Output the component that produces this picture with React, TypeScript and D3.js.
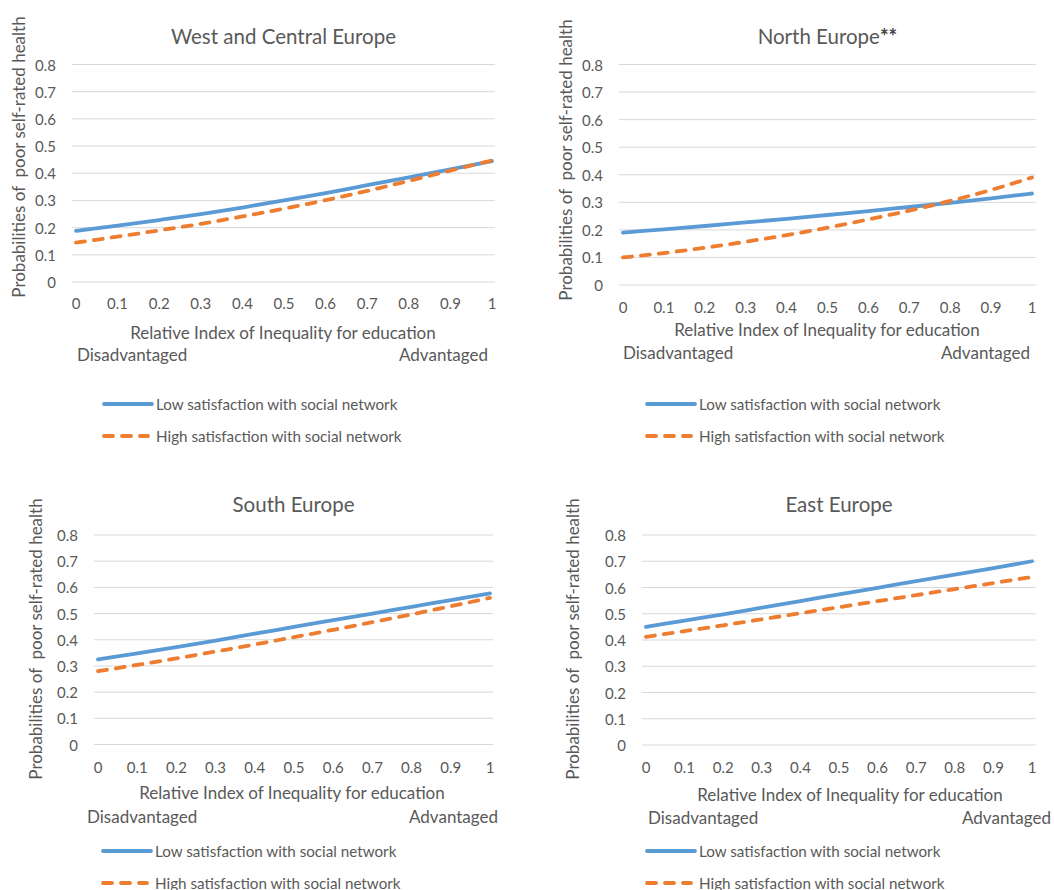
import * as d3 from "d3";

// x positions (Relative Index of Inequality)
const riiTicks = [0, 0.1, 0.2, 0.3, 0.4, 0.5, 0.6, 0.7, 0.8, 0.9, 1];
const yTicks = [0, 0.1, 0.2, 0.3, 0.4, 0.5, 0.6, 0.7, 0.8];

const regionNames = ["West and Central Europe", "North Europe**", "South Europe", "East Europe"];
const seriesNames = ["Low satisfaction with social network", "High satisfaction with social network"];

// estimated probabilities
const westLow = [0.188, 0.207, 0.228, 0.25, 0.274, 0.3, 0.327, 0.356, 0.385, 0.414, 0.445];
const westHigh = [0.145, 0.167, 0.19, 0.214, 0.241, 0.27, 0.301, 0.335, 0.372, 0.41, 0.447];
const northLow = [0.19, 0.202, 0.214, 0.227, 0.24, 0.254, 0.268, 0.283, 0.298, 0.314, 0.332];
const northHigh = [0.1, 0.116, 0.135, 0.157, 0.181, 0.208, 0.238, 0.27, 0.305, 0.345, 0.39];
const southLow = [0.325, 0.348, 0.372, 0.397, 0.423, 0.449, 0.475, 0.5, 0.526, 0.551, 0.577];
const southHigh = [0.28, 0.304, 0.329, 0.355, 0.382, 0.41, 0.438, 0.467, 0.497, 0.528, 0.56];
const eastLow = [0.45, 0.474, 0.498, 0.523, 0.548, 0.574, 0.599, 0.624, 0.649, 0.674, 0.7];
const eastHigh = [0.412, 0.434, 0.456, 0.479, 0.502, 0.525, 0.548, 0.571, 0.594, 0.617, 0.64];

const W = 1054;
const H = 890;
const FONT = "Lato, 'Open Sans', sans-serif";
const TXT = "#595959";
const BLUE = "#5b9bd5";
const ORANGE = "#ed7d31";

// layout of each small chart (pixel boxes measured on the reference)
const panels = [
  {
    name: regionNames[0], low: westLow, high: westHigh,
    plotL: 72, plotR: 495, x0: 76, x1: 492, yTop: 64.5, yBot: 282,
    titleY: 36, yLabX: 56, xTickY: 303, axisTitleX: 283, axisTitleY: 332,
    disX: 77, advX: 488, endsY: 354, legX: 102, legY: 404, yTitleX: 18, yTitleY: 157,
  },
  {
    name: regionNames[1], low: northLow, high: northHigh,
    plotL: 619, plotR: 1036, x0: 623, x1: 1032, yTop: 64.5, yBot: 285,
    titleY: 36, yLabX: 603, xTickY: 307, axisTitleX: 827, axisTitleY: 329,
    disX: 623, advX: 1030, endsY: 352, legX: 645, legY: 404, yTitleX: 565, yTitleY: 160,
  },
  {
    name: regionNames[2], low: southLow, high: southHigh,
    plotL: 94, plotR: 493, x0: 98, x1: 490, yTop: 535, yBot: 744.5,
    titleY: 504, yLabX: 78, xTickY: 767, axisTitleX: 292, axisTitleY: 792,
    disX: 87, advX: 498, endsY: 816, legX: 101, legY: 851, yTitleX: 35, yTitleY: 639,
  },
  {
    name: regionNames[3], low: eastLow, high: eastHigh,
    plotL: 642, plotR: 1036, x0: 646, x1: 1032, yTop: 535, yBot: 745,
    titleY: 504, yLabX: 626, xTickY: 767, axisTitleX: 850, axisTitleY: 794,
    disX: 648, advX: 1051, endsY: 817, legX: 645, legY: 851, yTitleX: 572, yTitleY: 639,
  },
];

const Panel = ({ p }: { p: (typeof panels)[number] }) => {
  const x = d3.scaleLinear().domain([0, 1]).range([p.x0, p.x1]);
  const y = d3.scaleLinear().domain([0, 0.8]).range([p.yBot, p.yTop]);
  const line = d3
    .line<number>()
    .x((_, i) => x(riiTicks[i]))
    .y((v) => y(v))
    .curve(d3.curveMonotoneX);

  return (
    <g fontFamily={FONT} fill={TXT}>
      <text x={(p.plotL + p.plotR) / 2} y={p.titleY} textAnchor="middle" dominantBaseline="central" fontSize={20.5}>
        {p.name.replace("**", "")}
        {p.name.endsWith("**") && <tspan fontWeight="bold" fill="#404040">**</tspan>}
      </text>

      {yTicks.map((t) => (
        <g key={t}>
          <line x1={p.plotL} x2={p.plotR} y1={y(t)} y2={y(t)} stroke="#d9d9d9" strokeWidth={1} />
          <text x={p.yLabX} y={y(t)} textAnchor="end" dominantBaseline="central" fontSize={15}>
            {d3.format("")(t)}
          </text>
        </g>
      ))}

      {riiTicks.map((t) => (
        <text key={t} x={x(t)} y={p.xTickY} textAnchor="middle" dominantBaseline="central" fontSize={15}>
          {t}
        </text>
      ))}

      <text x={p.axisTitleX} y={p.axisTitleY} textAnchor="middle" dominantBaseline="central" fontSize={17}>
        Relative Index of Inequality for education
      </text>
      <text x={p.disX} y={p.endsY} dominantBaseline="central" fontSize={17}>Disadvantaged</text>
      <text x={p.advX} y={p.endsY} textAnchor="end" dominantBaseline="central" fontSize={17}>Advantaged</text>

      <text
        transform={`translate(${p.yTitleX},${p.yTitleY}) rotate(-90)`}
        textAnchor="middle"
        dominantBaseline="central"
        fontSize={17}
        style={{ whiteSpace: "pre" }}
      >
        {"Probabilities of  poor self-rated health"}
      </text>

      <path d={line(p.low) ?? ""} fill="none" stroke={BLUE} strokeWidth={3.8} strokeLinecap="round" />
      <path
        d={line(p.high) ?? ""}
        fill="none"
        stroke={ORANGE}
        strokeWidth={3.8}
        strokeLinecap="round"
        strokeDasharray="9 9"
      />

      {seriesNames.map((s, i) => (
        <g key={s} transform={`translate(${p.legX},${p.legY + i * 32})`}>
          <line
            x1={2}
            x2={i === 0 ? 50 : 46}
            y1={0}
            y2={0}
            stroke={i === 0 ? BLUE : ORANGE}
            strokeWidth={3.8}
            strokeLinecap="round"
            strokeDasharray={i === 0 ? undefined : "9 9"}
          />
          <text x={54} y={0} dominantBaseline="central" fontSize={15.2}>{s}</text>
        </g>
      ))}
    </g>
  );
};

export default function App() {
  return (
    <svg width={W} height={H} style={{ position: "absolute", left: 0, top: 0, background: "#fff" }}>
      <rect width={W} height={H} fill="#fff" />
      {panels.map((p) => (
        <Panel key={p.name} p={p} />
      ))}
    </svg>
  );
}
